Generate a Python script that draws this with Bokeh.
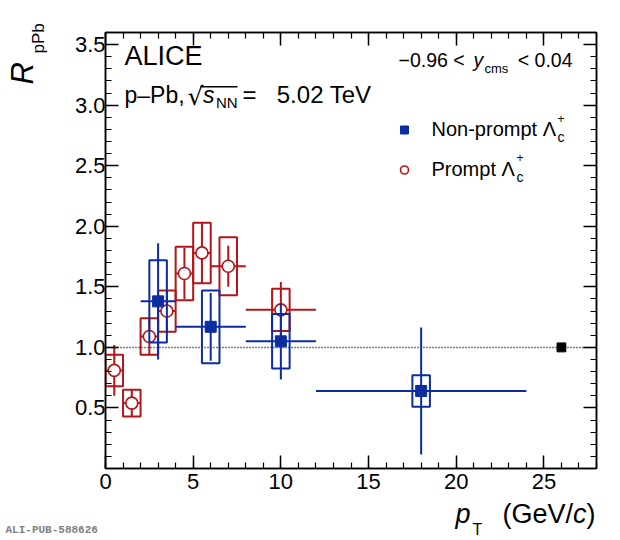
import numpy as np
from bokeh.plotting import figure
from bokeh.layouts import column
from bokeh.models import (Range1d, LinearAxis, FixedTicker, Label, Span, Legend, LegendItem,
                          NumeralTickFormatter, CustomJSTickFormatter, BoxAnnotation)
from bokeh.embed import file_html
from bokeh.resources import INLINE

# ---------------- data ----------------
prompt_pt = [0.5, 1.5, 2.5, 3.5, 4.5, 5.5, 7.0, 10.0]
prompt_pt_low = [0.0, 1.0, 2.0, 3.0, 4.0, 5.0, 6.0, 8.0]
prompt_pt_high = [1.0, 2.0, 3.0, 4.0, 5.0, 6.0, 8.0, 12.0]
prompt_rppb = [0.81, 0.54, 1.09, 1.30, 1.61, 1.78, 1.67, 1.31]
prompt_stat = [0.21, 0.11, 0.15, 0.17, 0.21, 0.25, 0.17, 0.23]
prompt_syst = [0.13, 0.11, 0.15, 0.17, 0.22, 0.25, 0.24, 0.175]

nonprompt_pt = [3.0, 6.0, 10.0, 18.0]
nonprompt_pt_low = [2.0, 4.0, 8.0, 12.0]
nonprompt_pt_high = [4.0, 8.0, 12.0, 24.0]
nonprompt_rppb = [1.38, 1.17, 1.05, 0.64]
nonprompt_stat = [0.48, 0.28, 0.315, 0.525]
nonprompt_syst = [0.34, 0.30, 0.225, 0.13]

norm_pt = [26.0]
norm_value = [1.0]
norm_unc = [0.037]

x_ticks = [0, 5, 10, 15, 20, 25]
y_ticks = [0.5, 1.0, 1.5, 2.0, 2.5, 3.0, 3.5]

# ---------------- styles ----------------
RED = "#b3151b"
BLUE = "#0b2da0"
FONT = "Liberation Sans"
BOX_HALF = 0.5
NORM_HALF = 0.25
BASE_SHIFT = 0.36   # empirical correction of the rendered text baseline (fraction of font size)

W = 620
H_MAIN, H_FOOT = 500, 40
BL, BR, BT, BB = 105, 24, 32, 32
X0, X1, Y0, Y1 = 0.0, 28.0, 0.0, 3.6
# frame position in page pixels
FL, FR = BL, W - BR
FT, FB = BT, H_MAIN - BB


def dx(px):
    return X0 + (px - FL) * (X1 - X0) / (FR - FL)


def dy(py):
    return Y0 + (FB - py) * (Y1 - Y0) / (FB - FT)


p = figure(width=W, height=H_MAIN, x_range=Range1d(X0, X1), y_range=Range1d(Y0, Y1),
           output_backend="svg", toolbar_location=None,
           min_border_left=BL, min_border_right=BR, min_border_top=BT, min_border_bottom=BB)
p.xgrid.visible = False
p.ygrid.visible = False
p.background_fill_color = "white"
p.border_fill_color = "white"
p.outline_line_color = "black"
p.outline_line_width = 1.5

x_minor = list(range(0, 29))
y_minor = [round(0.1 * i, 2) for i in range(0, 37)]


def style_axis(ax, major_in, minor_in):
    ax.axis_line_color = "black"
    ax.axis_line_width = 1.5
    ax.major_tick_in = major_in
    ax.major_tick_out = 0
    ax.minor_tick_in = minor_in
    ax.minor_tick_out = 0
    ax.major_tick_line_width = 1.5
    ax.minor_tick_line_width = 1.2
    ax.major_tick_line_color = "black"
    ax.minor_tick_line_color = "black"
    ax.major_label_text_font = FONT
    ax.major_label_text_font_size = "22px"
    ax.major_label_text_color = "black"


xa = p.xaxis[0]
xa.ticker = FixedTicker(ticks=x_ticks, minor_ticks=x_minor)
style_axis(xa, 13, 6)
xa.major_label_standoff = 5

ya = p.yaxis[0]
ya.ticker = FixedTicker(ticks=y_ticks, minor_ticks=y_minor)
ya.formatter = NumeralTickFormatter(format="0.0")
style_axis(ya, 13, 6)
ya.major_label_standoff = 0

blank = CustomJSTickFormatter(code="return ''")
top_ax = LinearAxis(ticker=FixedTicker(ticks=x_ticks, minor_ticks=x_minor), formatter=blank)
style_axis(top_ax, 13, 6)
top_ax.major_label_standoff = 0
p.add_layout(top_ax, "above")
right_ax = LinearAxis(ticker=FixedTicker(ticks=y_ticks, minor_ticks=y_minor), formatter=blank)
style_axis(right_ax, 13, 6)
right_ax.major_label_standoff = 0
p.add_layout(right_ax, "right")

# reference line at unity
p.add_layout(Span(location=1.0, dimension="width", line_color="black", line_width=1.5,
                  line_dash="1 2", level="underlay"))

# ---------------- prompt (red) ----------------
pp = np.array(prompt_pt)
pr = np.array(prompt_rppb)
pst = np.array(prompt_stat)
psy = np.array(prompt_syst)
p.quad(left=pp - BOX_HALF, right=pp + BOX_HALF, bottom=pr - psy, top=pr + psy,
       fill_alpha=0, line_color=RED, line_width=2)
p.segment(x0=pp, y0=pr - pst, x1=pp, y1=pr + pst, line_color=RED, line_width=2)
p.segment(x0=prompt_pt_low, y0=pr, x1=prompt_pt_high, y1=pr, line_color=RED, line_width=2)
r_prompt = p.scatter(x=pp, y=pr, marker="circle", size=12, fill_color="white",
                     line_color=RED, line_width=1.6)

# ---------------- non-prompt (blue) ----------------
npp = np.array(nonprompt_pt)
npr = np.array(nonprompt_rppb)
nst = np.array(nonprompt_stat)
nsy = np.array(nonprompt_syst)
p.quad(left=npp - BOX_HALF, right=npp + BOX_HALF, bottom=npr - nsy, top=npr + nsy,
       fill_alpha=0, line_color=BLUE, line_width=2)
p.segment(x0=npp, y0=npr - nst, x1=npp, y1=npr + nst, line_color=BLUE, line_width=2)
p.segment(x0=nonprompt_pt_low, y0=npr, x1=nonprompt_pt_high, y1=npr, line_color=BLUE, line_width=2)
r_nonprompt = p.scatter(x=npp, y=npr, marker="square", size=11, fill_color=BLUE,
                        line_color=BLUE, line_width=1)

# normalisation uncertainty
nx = np.array(norm_pt)
nv = np.array(norm_value)
nu = np.array(norm_unc)
p.quad(left=nx - NORM_HALF, right=nx + NORM_HALF, bottom=nv - nu, top=nv + nu,
       fill_color="black", line_color="black", line_width=1)

# ---------------- legend ----------------
leg_glyph_left = 393.5
leg_top = 111.2
row_h, row_gap = 37, 3
leg_h = 2 * row_h + row_gap
legend = Legend(items=[LegendItem(label="Non-prompt \u039b", renderers=[r_nonprompt]),
                       LegendItem(label="Prompt \u039b", renderers=[r_prompt])],
                location=(leg_glyph_left - FL, FB - (leg_top + leg_h)),
                padding=0, margin=0, spacing=row_gap, glyph_width=20, glyph_height=row_h,
                label_height=row_h, label_standoff=18, label_text_font=FONT,
                label_text_font_size="20px", label_text_color="black",
                border_line_color=None, background_fill_alpha=0)
p.add_layout(legend)

# ---------------- footer strip for the x-axis title ----------------
foot = figure(width=W, height=H_FOOT, output_backend="svg", toolbar_location=None,
              min_border=0, x_axis_type=None, y_axis_type=None)
try:
    foot.frame_align = False
    p.frame_align = False
    foot_x0, foot_x1 = 0, W
except Exception:
    foot_x0, foot_x1 = FL, FR
foot.x_range = Range1d(foot_x0, foot_x1)
foot.y_range = Range1d(H_MAIN + H_FOOT, H_MAIN)
foot.xgrid.visible = False
foot.ygrid.visible = False
foot.outline_line_color = None
foot.background_fill_color = "white"
foot.border_fill_color = "white"


# ---------------- texts ----------------
def lab(text, px, py, size, style="normal", align="left", angle=0.0, font=FONT,
        color="black", place=None, fig=None):
    if angle == 0.0:
        py = py - BASE_SHIFT * size
    else:
        px = px - BASE_SHIFT * size
    if fig is None:
        x, y = dx(px), dy(py)
    else:
        x, y = px, py
    lbl = Label(x=x, y=y, x_units="data", y_units="data", text=text,
                text_font=font, text_font_size=f"{size}px", text_font_style=style,
                text_align=align, text_baseline="alphabetic", angle=angle,
                text_color=color)
    target = p if fig is None else fig
    if place is None:
        target.add_layout(lbl)
    else:
        target.add_layout(lbl, place)


lab("ALICE", 124, 65.7, 27)
lab("p\u2013Pb,", 124, 102.3, 23)
lab("\u221a", 187, 105, 25, font="DejaVu Sans")
p.add_layout(BoxAnnotation(left=dx(200), right=dx(237), top=dy(85.6), bottom=dy(87.0),
                           fill_color="black", fill_alpha=1, line_alpha=0))
lab("s", 202.5, 102.3, 23, style="italic")
lab("NN", 215.5, 107.5, 15)
lab("=", 242, 102.3, 24)
lab("5.02 TeV", 371, 102.3, 24, align="right")

lab("\u22120.96 <", 398, 66.7, 19.5)
lab("y", 473, 66.7, 19.5, style="italic")
lab("cms", 484, 72.5, 13)
lab("< 0.04", 572, 66.7, 19.5, align="right")

# legend sub/superscripts
lab("c", 557, 142, 14)
lab("+", 557, 122, 12)
lab("c", 516, 181.5, 14)
lab("+", 516, 161.5, 12)

# y-axis title (left side panel, so it is not clipped by the frame)
lab("R", 33, 84, 31, style="italic", angle=np.pi / 2, place="left")
lab("pPb", 44, 53, 17, angle=np.pi / 2, place="left")

# x-axis title and figure id in the footer strip
lab("p", 455, 523, 27, style="italic", fig=foot)
lab("T", 472, 535, 16, fig=foot)
lab(")", 595, 523, 27, align="right", fig=foot)
lab("c", 586, 523, 27, style="italic", align="right", fig=foot)
lab("(GeV/", 572.5, 523, 27, align="right", fig=foot)
lab("ALI-PUB-588626", 5, 533, 11, style="bold", font="Liberation Mono", color="#808080",
    fig=foot)

layout = column(p, foot, spacing=0)
open("out.html", "w").write(file_html(layout, INLINE))
